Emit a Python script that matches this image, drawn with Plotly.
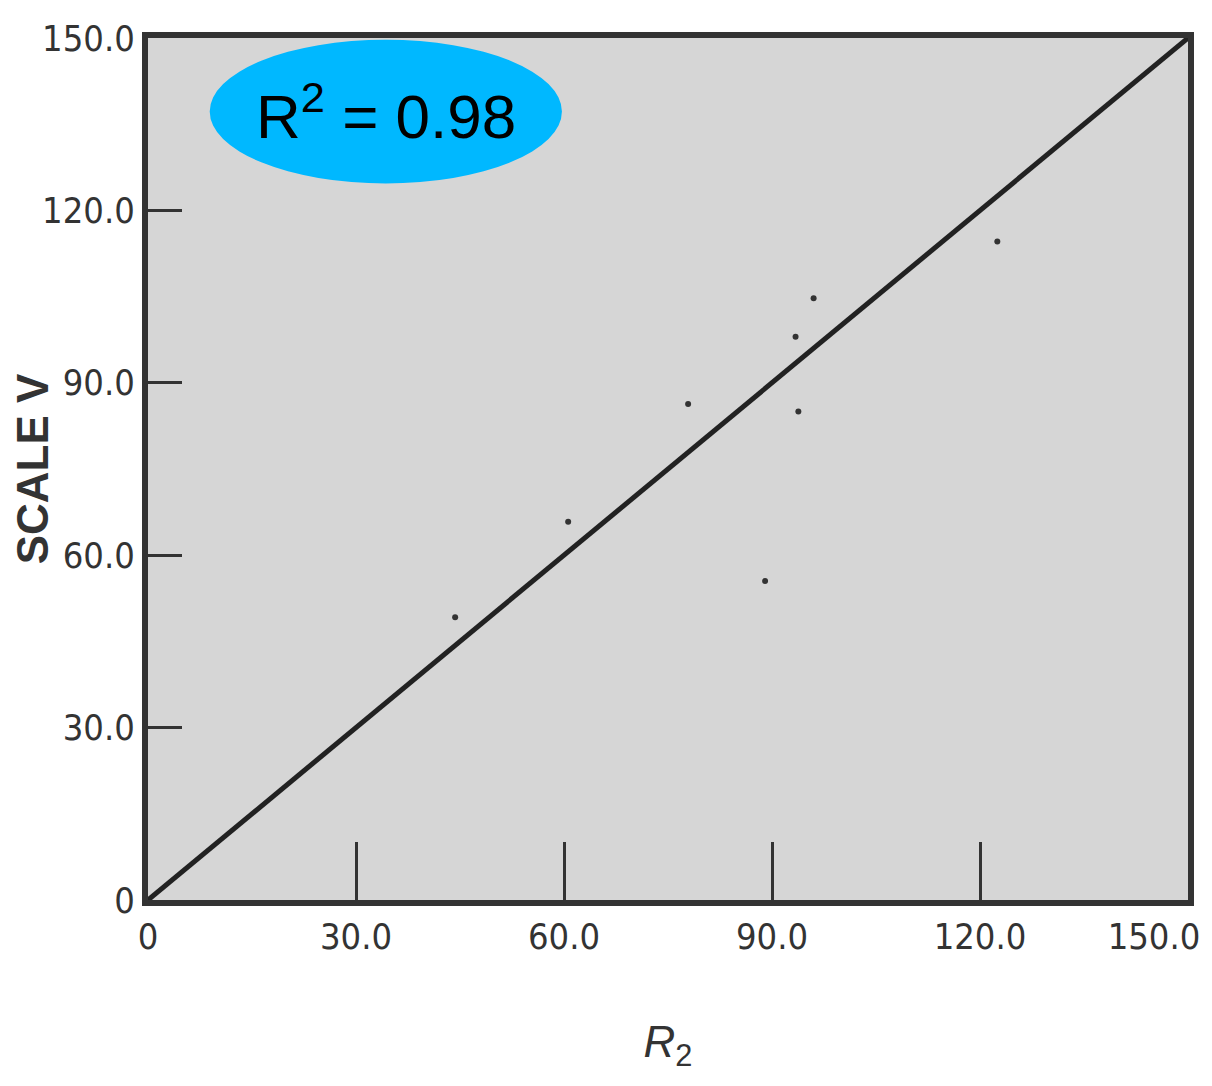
import plotly.graph_objects as go

# Data
line_x = [0, 150]
line_y = [0, 150]
scatter_x = [96.0, 93.4, 93.8, 89.0, 122.5, 77.9, 44.3, 60.6]
scatter_y = [104.7, 98.0, 85.0, 55.5, 114.6, 86.3, 49.2, 65.8]
tick_vals = [0, 30, 60, 90, 120, 150]
tick_text = ["0", "30.0", "60.0", "90.0", "120.0", "150.0"]
r2_text = "R<sup>2</sup> = 0.98"
ellipse_x = [8.9, 59.7]
ellipse_y = [124.7, 149.7]

tick_font = dict(family="Liberation Sans Narrow, DejaVu Sans Condensed, Liberation Sans, Arial",
                 size=36, color="#333333")

fig = go.Figure()
fig.add_trace(go.Scatter(x=line_x, y=line_y, mode="lines",
                         line=dict(color="#222222", width=5), showlegend=False))
fig.add_trace(go.Scatter(x=scatter_x, y=scatter_y, mode="markers",
                         marker=dict(color="#333333", size=6), showlegend=False))
# invisible trace to anchor the secondary x axis (last tick label, shifted to stay on the page)
fig.add_trace(go.Scatter(x=[tick_vals[-1]], y=[tick_vals[-1]], xaxis="x2", mode="markers",
                         marker=dict(opacity=0), showlegend=False, hoverinfo="skip"))

fig.add_shape(type="circle", xref="x", yref="y",
              x0=ellipse_x[0], x1=ellipse_x[1], y0=ellipse_y[0], y1=ellipse_y[1],
              fillcolor="#00B8FF", line=dict(width=0), layer="above")
fig.add_annotation(x=sum(ellipse_x) / 2, y=sum(ellipse_y) / 2, xref="x", yref="y",
                   text=r2_text, showarrow=False,
                   font=dict(family="Liberation Sans, Arial", size=62, color="#000000"))

fig.update_layout(
    width=1212, height=1086,
    margin=dict(l=140, r=32, t=30, b=194, autoexpand=False),
    paper_bgcolor="white",
    plot_bgcolor="#d6d6d6",
    showlegend=False,
    xaxis2=dict(overlaying="x", side="bottom", anchor="y", range=[0, 150],
                tickvals=tick_vals[-1:], ticktext=tick_text[-1:], ticklabelshift=-34,
                ticks="inside", ticklen=1, tickwidth=1, tickcolor="#333333",
                showgrid=False, zeroline=False,
                showline=True, linewidth=6, linecolor="#333333",
                automargin=False, tickfont=tick_font, ticklabeloverflow="allow"),
    xaxis=dict(range=[0, 150], tickvals=tick_vals[:-1], ticktext=tick_text[:-1],
               ticks="inside", ticklen=58, tickwidth=3, tickcolor="#333333",
               showgrid=False, zeroline=False, automargin=False,
               showline=True, linewidth=6, linecolor="#333333", mirror=True,
               tickfont=tick_font, ticklabeloverflow="allow",
               title=dict(text="<i>R</i><sub>2</sub>", standoff=72,
                          font=dict(family="Liberation Sans, Arial", size=44, color="#333333"))),
    yaxis=dict(range=[0, 150], tickvals=tick_vals, ticktext=tick_text,
               ticks="inside", ticklen=34, tickwidth=3, tickcolor="#333333",
               showgrid=False, zeroline=False, automargin=False,
               showline=True, linewidth=6, linecolor="#333333", mirror=True,
               tickfont=tick_font, ticklabeloverflow="allow",
               title=dict(text="<b>SCALE V</b>", standoff=10,
                          font=dict(family="Liberation Sans, Arial", size=44, color="#333333"))),
)

fig.write_html("out.html")
